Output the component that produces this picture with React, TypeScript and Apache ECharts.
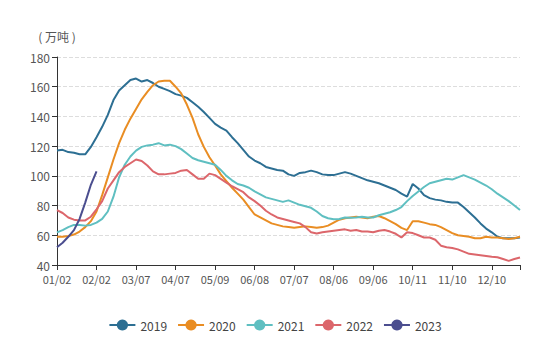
import React, { useEffect, useRef } from "react";
import * as echarts from "echarts";

const tickLabels = ["01/02", "02/02", "03/07", "04/07", "05/09", "06/08", "07/07", "08/06", "09/06", "10/11", "11/10", "12/10"];
const STEP = 7;
const POINTS = 83;
const categories: string[] = Array.from({ length: POINTS }, (_, i) => String(i));

const seriesNames = ["2019", "2020", "2021", "2022", "2023"];
const colors = ["#2d6f93", "#e98d23", "#5fbfc1", "#dc666b", "#4b4e8f"];

const y2019 = [
  117, 117.5, 116, 115.5, 114.5, 114.5, 119.5, 126, 133, 141,
  151, 157.5, 161, 164.5, 165.5, 163.5, 164.5, 162.5, 160, 158.5,
  157, 155, 154, 152.5, 149.5, 146.5, 143, 139, 135, 132.5,
  130.5, 126, 122, 117.5, 113, 110.3, 108.5, 106, 105, 104,
  103.5, 101, 100, 102, 102.5, 103.5, 102.5, 101, 100.5, 100.5,
  101.5, 102.5, 101.5, 100, 98.5, 97, 96, 95, 93.5, 92,
  90.5, 88, 86, 94.5, 91.5, 87, 85, 84, 83.5, 82.5,
  82, 82, 79, 75.5, 72, 68, 64.5, 62, 59, 58,
  58, 58, 58.5,
];
const y2020 = [
  59, 59, 59.5, 60.5, 62.5, 65.5, 69.5, 76, 87, 99,
  111, 122, 131, 138.5, 145, 151.5, 156.5, 161, 163.5, 164,
  164, 160, 155.5, 148, 139, 128, 119.5, 112.5, 107, 101,
  96.5, 92, 88, 84, 79, 74, 72, 70, 68, 67,
  66, 65.5, 65, 65.5, 66, 65.5, 65, 65.5, 66.5, 68.5,
  70.5, 71.5, 72, 72.5, 72, 71.5, 72.5, 73, 71.5, 69.5,
  67.5, 65, 63.5, 69.5, 69.5, 68.5, 67.5, 67, 65.5, 63.5,
  61.5, 60, 59.5, 59, 58, 58, 59, 58.5, 58.5, 58,
  57.5, 58, 59,
];
const y2021 = [
  62, 63.5, 65.5, 67, 67, 66.5, 67, 68.5, 71, 76,
  86, 99, 107.5, 113, 117, 119.5, 120.5, 121, 122, 120.5,
  121, 120, 118, 115, 112, 110.5, 109.5, 108.5, 107.5, 104,
  100, 97, 94.5, 93.5, 92, 89.5, 87.5, 85.5, 84.5, 83.5,
  82.5, 83.5, 82, 80.5, 79.5, 78.5, 76, 73, 71.5, 70.8,
  71, 72, 71.8, 72, 72.5, 72, 72, 73.5, 74.5, 75.5,
  77, 79, 83, 86.5, 89.5, 92.5, 95, 96, 97, 98,
  97.5, 99, 100.5, 99, 97.5, 95.5, 93.5, 91, 88, 85.5,
  83, 80, 77,
];
const y2022 = [
  77, 75, 72, 70.5, 70, 70, 72.5, 77.5, 83, 91.5,
  97, 102.5, 106, 108.5, 111, 110, 107, 103, 101, 101,
  101.5, 102, 103.5, 104, 101, 98, 98, 101.5, 100.5, 98,
  95.5, 93, 91, 89, 85.5, 83, 80, 76.5, 74, 72,
  71, 70, 69, 68, 65.5, 62, 61.2, 62, 62.5, 63,
  63.5, 64, 63, 63.5, 62.5, 62.5, 62, 63, 63.5, 62.5,
  61, 58.5, 62, 61.5, 60, 58.5, 58.5, 57, 53, 52,
  51.5, 50.5, 49, 47.5, 47, 46.5, 46, 45.5, 45.2, 44,
  42.8, 44, 45,
];
const y2023 = [52, 55, 59, 63.5, 71, 82, 94, 103];

const yMin = 40;
const yMax = 180;
const yStep = 20;
const unitLabel = "( 万吨 )";

export default function App() {
  const ref = useRef<HTMLDivElement>(null);
  useEffect(() => {
    if (!ref.current) return;
    const chart = echarts.init(ref.current, undefined, { renderer: "svg" });
    const font = "'Microsoft YaHei', 'Noto Sans CJK SC', 'Noto Sans', sans-serif";
    const data = [y2019, y2020, y2021, y2022, y2023];
    chart.setOption({
      animation: false,
      backgroundColor: "#ffffff",
      color: colors,
      textStyle: { fontFamily: font },
      grid: { left: 57, right: 30, top: 57, bottom: 77, containLabel: false },
      legend: {
        data: seriesNames,
        left: "center",
        top: 314,
        itemWidth: 26,
        itemHeight: 14,
        itemGap: 10,
        textStyle: { color: "#444", fontSize: 12, fontFamily: font },
      },
      xAxis: {
        type: "category",
        data: categories,
        boundaryGap: false,
        axisLine: { show: true, lineStyle: { color: "#333", width: 1 } },
        axisTick: {
          show: true,
          length: 5,
          interval: (i: number) => i % STEP === 0 || i === POINTS - 1,
          lineStyle: { color: "#333" },
        },
        axisLabel: {
          interval: (i: number) => i % STEP === 0,
          formatter: (_v: string, i: number) => (i % STEP === 0 ? tickLabels[i / STEP] ?? "" : ""),
          color: "#555",
          fontSize: 11,
          margin: 8,
          fontFamily: font,
        },
        splitLine: { show: false },
      },
      yAxis: {
        type: "value",
        min: yMin,
        max: yMax,
        interval: yStep,
        name: unitLabel,
        nameLocation: "end",
        nameGap: 15,
        nameTextStyle: { color: "#555", fontSize: 12, fontFamily: font, align: "center" },
        axisLine: { show: true, lineStyle: { color: "#333", width: 1 } },
        axisTick: { show: true, length: 5, lineStyle: { color: "#333" } },
        axisLabel: { color: "#555", fontSize: 12, margin: 7, fontFamily: font },
        splitLine: { show: true, lineStyle: { color: "#ddd", type: "dashed", width: 1 } },
      },
      series: seriesNames.map((name, k) => ({
        name,
        type: "line",
        data: data[k],
        symbol: "circle",
        symbolSize: 8,
        showSymbol: false,
        smooth: false,
        lineStyle: { width: 2 },
        itemStyle: { color: colors[k] },
      })),
    });
    return () => chart.dispose();
  }, []);
  return (
    <div
      ref={ref}
      style={{ position: "fixed", left: 0, top: 0, width: 550, height: 342 }}
    />
  );
}
